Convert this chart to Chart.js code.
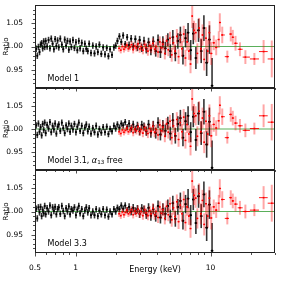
<!DOCTYPE html>
<html>
<head>
<meta charset="utf-8">
<script src="https://cdn.jsdelivr.net/npm/chart.js@4.4.1/dist/chart.umd.min.js"></script>
<style>
	html, body { margin: 0; padding: 0; background: #fff; }
	#wrap { position: relative; width: 281px; height: 281px; overflow: hidden; }
	canvas { position: absolute; left: 0; }
</style>
</head>
<body>
<div id="wrap">
	<canvas id="panel-1"></canvas>
	<canvas id="panel-2"></canvas>
	<canvas id="panel-3"></canvas>
</div>
<script>
const blackEnergy = [
	0.50, 0.51, 0.52, 0.53, 0.54, 0.55, 0.56, 0.57, 0.58, 0.59,
	0.60, 0.615, 0.63, 0.645, 0.66, 0.675, 0.69, 0.705, 0.72, 0.735,
	0.75, 0.77, 0.79, 0.81, 0.83, 0.85, 0.87, 0.89, 0.91, 0.93,
	0.955, 0.98, 1.005, 1.03, 1.055, 1.08, 1.11, 1.14, 1.17, 1.20,
	1.23, 1.26, 1.30, 1.34, 1.38, 1.42, 1.46, 1.50, 1.55, 1.60,
	1.65, 1.70, 1.75, 1.80, 1.86, 1.92, 1.98, 2.04, 2.11, 2.18,
	2.25, 2.33, 2.41, 2.49, 2.58, 2.67, 2.77, 2.87, 2.98, 3.09,
	3.21, 3.34, 3.47, 3.61, 3.76, 3.92, 4.08, 4.25, 4.43, 4.62,
	4.82, 5.03, 5.25, 5.48, 5.72, 5.97, 6.24, 6.52, 6.81, 7.12,
	7.44, 7.78, 8.14, 8.52, 8.92, 9.35, 9.80, 10.25,
];
const blackErr = [
	0.007, 0.007, 0.007, 0.007, 0.007, 0.007, 0.007, 0.007, 0.007, 0.007,
	0.007, 0.007, 0.007, 0.007, 0.007, 0.007, 0.007, 0.007, 0.007, 0.007,
	0.007, 0.007, 0.007, 0.007, 0.007, 0.007, 0.007, 0.007, 0.007, 0.007,
	0.007, 0.007, 0.007, 0.007, 0.007, 0.007, 0.007, 0.007, 0.007, 0.007,
	0.007, 0.007, 0.007, 0.007, 0.007, 0.007, 0.007, 0.007, 0.007, 0.007,
	0.007, 0.007, 0.007, 0.007, 0.007, 0.007, 0.007, 0.007, 0.007, 0.007,
	0.007, 0.007, 0.007, 0.008, 0.008, 0.008, 0.008, 0.009, 0.009, 0.009,
	0.009, 0.010, 0.010, 0.011, 0.011, 0.012, 0.012, 0.013, 0.013, 0.014,
	0.014, 0.015, 0.016, 0.017, 0.017, 0.018, 0.019, 0.020, 0.021, 0.022,
	0.023, 0.024, 0.025, 0.026, 0.028, 0.029, 0.031, 0.060,
];
const blackRatio1 = [
	0.984, 0.995, 0.980, 0.999, 0.988, 1.004, 1.007, 0.996, 1.011, 0.999,
	1.012, 1.000, 1.014, 0.996, 1.017, 1.006, 0.994, 1.016, 1.001, 1.013,
	0.998, 1.017, 1.004, 0.994, 1.015, 1.002, 1.012, 0.993, 1.011, 0.999,
	1.014, 0.997, 1.009, 0.992, 1.012, 0.996, 1.008, 0.990, 1.006, 0.995,
	0.990, 1.006, 0.986, 1.002, 0.985, 1.000, 0.988, 1.004, 0.984, 0.998,
	0.983, 0.997, 0.979, 0.994, 0.982, 0.998, 1.002, 1.012, 1.022, 1.010,
	1.024, 1.005, 1.020, 1.003, 1.017, 1.000, 1.016, 0.999, 1.014, 0.997,
	1.012, 0.995, 1.009, 0.992, 1.011, 0.990, 1.014, 0.988, 1.009, 0.996,
	1.015, 0.990, 1.020, 0.985, 1.012, 1.025, 0.980, 1.018, 1.030, 0.992,
	1.028, 0.975, 1.035, 0.990, 1.040, 0.965, 1.015, 0.915,
];
const blackRatio2 = [
	0.993, 1.008, 0.987, 1.012, 0.994, 1.004, 0.986, 1.011, 0.998, 1.014,
	0.991, 1.009, 1.001, 1.015, 0.993, 1.007, 0.999, 1.012, 0.990, 1.005,
	1.010, 0.996, 1.014, 1.002, 0.991, 1.008, 1.000, 1.012, 0.994, 1.007,
	0.999, 1.011, 0.993, 1.005, 1.014, 0.996, 1.007, 0.991, 1.003, 1.010,
	0.995, 1.005, 0.990, 1.002, 0.993, 1.007, 0.988, 1.000, 0.992, 1.004,
	0.993, 1.005, 0.989, 1.000, 0.995, 1.007, 1.001, 1.010, 1.003, 1.012,
	1.008, 1.015, 1.004, 1.012, 1.001, 1.010, 0.999, 1.007, 0.995, 1.009,
	1.005, 0.995, 1.010, 0.992, 1.007, 0.991, 1.014, 0.988, 1.007, 0.996,
	1.013, 0.990, 1.019, 0.985, 1.011, 1.024, 0.981, 1.017, 1.029, 0.993,
	1.027, 0.976, 1.034, 0.991, 1.038, 0.966, 1.016, 0.915,
];
const blackRatio3 = [
	0.991, 1.006, 0.985, 1.009, 0.998, 1.010, 0.990, 1.004, 0.996, 1.012,
	0.994, 1.007, 1.000, 1.013, 0.992, 1.009, 1.001, 1.010, 0.994, 1.005,
	1.009, 0.995, 1.012, 1.001, 0.990, 1.007, 1.000, 1.011, 0.994, 1.005,
	1.002, 1.009, 0.992, 1.004, 1.012, 0.996, 1.005, 0.990, 1.002, 1.009,
	0.998, 1.007, 0.992, 1.000, 0.992, 1.005, 0.990, 1.002, 0.994, 1.005,
	0.992, 1.004, 0.989, 1.000, 0.994, 1.005, 1.000, 1.008, 1.005, 1.013,
	1.006, 1.013, 1.003, 1.010, 1.000, 1.008, 1.001, 1.005, 0.995, 1.007,
	1.004, 0.994, 1.008, 0.991, 1.005, 0.990, 1.012, 0.987, 1.005, 0.995,
	1.012, 0.989, 1.018, 0.984, 1.010, 1.023, 0.980, 1.016, 1.028, 0.992,
	1.026, 0.975, 1.033, 0.990, 1.037, 0.965, 1.015, 0.915,
];

const redEnergy = [
	2.10, 2.16, 2.22, 2.28, 2.34, 2.40, 2.46, 2.53, 2.60, 2.67,
	2.74, 2.82, 2.90, 2.98, 3.06, 3.15, 3.24, 3.33, 3.43, 3.53,
	3.63, 3.74, 3.85, 3.96, 4.08, 4.20, 4.32, 4.45, 4.58, 4.72,
	4.86, 5.00, 5.15, 5.30, 5.46, 5.62, 5.79, 5.96, 6.14, 6.32,
	6.51, 6.70, 6.90, 7.10, 7.31, 7.53, 7.75, 7.98, 8.22, 8.46,
	8.71, 8.97, 9.24, 9.52, 9.80, 10.10,
	10.55, 11.0, 11.5, 11.7, 12.2, 13.3, 14.1, 14.6, 15.3, 16.5, 18.1, 21.1, 24.7, 28.4,
];
const redErr = [
	0.007, 0.007, 0.007, 0.007, 0.007, 0.007, 0.007, 0.007, 0.008, 0.008,
	0.008, 0.008, 0.008, 0.009, 0.009, 0.009, 0.009, 0.010, 0.010, 0.010,
	0.010, 0.011, 0.011, 0.011, 0.012, 0.012, 0.012, 0.013, 0.013, 0.013,
	0.014, 0.014, 0.015, 0.015, 0.015, 0.016, 0.016, 0.017, 0.017, 0.018,
	0.018, 0.019, 0.019, 0.020, 0.026, 0.021, 0.021, 0.022, 0.022, 0.023,
	0.023, 0.024, 0.024, 0.025, 0.025, 0.025,
	0.016, 0.017, 0.018, 0.020, 0.018, 0.013, 0.016, 0.016, 0.016, 0.015, 0.015, 0.013, 0.025, 0.040,
];
const redRatio1 = [
	0.996, 0.992, 1.000, 0.994, 0.998, 1.003, 0.995, 0.999, 1.004, 0.993,
	1.001, 0.997, 1.006, 0.995, 1.000, 0.992, 1.004, 0.998, 0.990, 1.002,
	0.996, 1.007, 0.994, 1.000, 0.988, 1.010, 0.997, 1.005, 0.985, 1.012,
	0.993, 1.018, 0.982, 1.008, 0.990, 1.022, 0.978, 1.015, 0.995, 1.027,
	0.975, 1.010, 0.990, 0.962, 1.066, 1.035, 1.030, 0.985, 1.040, 0.995,
	1.025, 0.972, 1.018, 0.990, 1.030, 0.985,
	1.008, 0.998, 1.015, 1.052, 1.025, 0.978, 1.027, 1.020, 1.007, 0.994, 0.977, 0.973, 0.989, 0.973,
];
const redRatio2 = [
	0.994, 0.990, 0.998, 0.993, 0.997, 1.002, 0.994, 0.998, 1.003, 0.992,
	1.000, 0.996, 1.005, 0.994, 0.999, 0.991, 1.003, 0.997, 0.990, 1.001,
	0.995, 1.006, 0.993, 0.999, 0.987, 1.009, 0.996, 1.004, 0.984, 1.011,
	0.993, 1.017, 0.981, 1.007, 0.989, 1.021, 0.977, 1.014, 0.994, 1.026,
	0.975, 1.010, 0.989, 0.962, 1.066, 1.034, 1.029, 0.984, 1.039, 0.994,
	1.024, 0.971, 1.017, 0.989, 1.029, 0.985,
	1.010, 1.002, 1.018, 1.052, 1.027, 0.981, 1.032, 1.024, 1.013, 1.007, 0.997, 1.001, 1.029, 1.015,
];
const redRatio3 = [
	0.995, 0.991, 0.999, 0.993, 0.998, 1.003, 0.995, 0.998, 1.004, 0.993,
	1.001, 0.996, 1.005, 0.995, 1.000, 0.991, 1.004, 0.997, 0.991, 1.002,
	0.995, 1.007, 0.993, 1.000, 0.987, 1.010, 0.996, 1.004, 0.985, 1.011,
	0.993, 1.017, 0.982, 1.008, 0.989, 1.021, 0.978, 1.014, 0.995, 1.026,
	0.976, 1.010, 0.990, 0.963, 1.066, 1.035, 1.029, 0.985, 1.039, 0.995,
	1.024, 0.972, 1.017, 0.990, 1.029, 0.986,
	1.010, 1.003, 1.018, 1.050, 1.026, 0.985, 1.030, 1.023, 1.016, 1.008, 1.000, 1.003, 1.030, 1.018,
];

const xTicks = [0.5, 1, 10];
const xMinorTicks = [0.6, 0.7, 0.8, 0.9, 2, 3, 4, 5, 6, 7, 8, 9, 20, 30];
const yTicks = [0.95, 1.00, 1.05];
const yMinorTicks = [0.92, 0.93, 0.94, 0.96, 0.97, 0.98, 0.99, 1.01, 1.02, 1.03, 1.04, 1.06, 1.07, 1.08];
const modelLine = [1, 1];
const modelLineEnergy = [0.5, 30];

const FONT = 'DejaVu Sans';

// error bars: vertical from yErr, horizontal = half way to neighbouring bins (log)
const errBars = {
	id: 'errBars',
	beforeDatasetDraw(chart, args) {
		const ds = chart.data.datasets[args.index];
		if (!ds.yErr) return;
		const { ctx, chartArea: a, scales: { x, y } } = chart;
		ctx.save();
		ctx.beginPath();
		ctx.rect(a.left, a.top, a.right - a.left, a.bottom - a.top);
		ctx.clip();
		const pts = ds.data;
		for (let i = 0; i < pts.length; i++) {
			const p = pts[i];
			const e = ds.yErr[i];
			const px = x.getPixelForValue(p.x);
			const py = y.getPixelForValue(p.y);
			let lo, hi;
			if (i > 0) lo = Math.sqrt(pts[i - 1].x * p.x);
			if (i < pts.length - 1) hi = Math.sqrt(pts[i + 1].x * p.x);
			if (lo === undefined) lo = p.x * p.x / hi;
			if (hi === undefined) hi = p.x * p.x / lo;

			ctx.strokeStyle = ds.vBarColor;
			ctx.lineWidth = ds.vBarWidth;
			ctx.beginPath();
			ctx.moveTo(px, y.getPixelForValue(p.y - e));
			ctx.lineTo(px, y.getPixelForValue(p.y + e));
			ctx.stroke();

			ctx.strokeStyle = ds.hBarColor;
			ctx.lineWidth = ds.hBarWidth;
			ctx.beginPath();
			ctx.moveTo(x.getPixelForValue(lo), py);
			ctx.lineTo(x.getPixelForValue(hi), py);
			ctx.stroke();
		}
		ctx.restore();
	}
};

// box, tick marks and model name
const frame = {
	id: 'frame',
	afterDraw(chart, args, opts) {
		const { ctx, chartArea: a, scales: { x, y } } = chart;
		ctx.save();
		ctx.strokeStyle = '#222';
		ctx.lineWidth = 1;
		ctx.strokeRect(a.left + 0.5, a.top + 0.5, a.right - a.left - 1, a.bottom - a.top - 1);

		ctx.lineWidth = 0.8;
		ctx.beginPath();
		yTicks.forEach(v => {
			const py = Math.round(y.getPixelForValue(v)) + 0.5;
			ctx.moveTo(a.left - 3.5, py);
			ctx.lineTo(a.left, py);
		});
		yMinorTicks.forEach(v => {
			const py = Math.round(y.getPixelForValue(v)) + 0.5;
			ctx.moveTo(a.left - 2, py);
			ctx.lineTo(a.left, py);
		});
		xTicks.forEach(v => {
			const px = Math.round(x.getPixelForValue(v)) + 0.5;
			ctx.moveTo(px, a.bottom);
			ctx.lineTo(px, a.bottom + 3.5);
		});
		xMinorTicks.forEach(v => {
			const px = Math.round(x.getPixelForValue(v)) + 0.5;
			ctx.moveTo(px, a.bottom);
			ctx.lineTo(px, a.bottom + 2);
		});
		ctx.stroke();

		ctx.fillStyle = '#000';
		ctx.textBaseline = 'alphabetic';
		let tx = a.left + 12.5;
		const ty = a.bottom - 7.5;
		ctx.font = `8px "${FONT}"`;
		ctx.fillText(opts.label, tx, ty);
		if (opts.greek) {
			tx += ctx.measureText(opts.label).width;
			ctx.font = `italic 8px "${FONT}"`;
			ctx.fillText('α', tx, ty);
			tx += ctx.measureText('α').width;
			ctx.font = `5.6px "${FONT}"`;
			ctx.fillText(opts.sub, tx, ty + 1.5);
			tx += ctx.measureText(opts.sub).width;
			ctx.font = `8px "${FONT}"`;
			ctx.fillText(opts.tail, tx, ty);
		}
		ctx.restore();
	}
};

function points(energy, ratio) {
	return energy.map((e, i) => ({ x: e, y: ratio[i] }));
}

function CreatePanel(options) {
	const canvas = document.getElementById(options.id);
	canvas.width = 281;
	canvas.height = options.height;
	canvas.style.top = options.top + 'px';

	const config = {
		type: 'scatter',
		data: {
			datasets: [
				{
					data: points(redEnergy, options.red),
					yErr: redErr,
					vBarColor: 'rgba(255, 0, 0, 0.35)',
					vBarWidth: 2,
					hBarColor: 'rgba(255, 0, 0, 0.9)',
					hBarWidth: 1,
					pointStyle: 'rect',
					pointRadius: 1.1,
					backgroundColor: 'rgb(255, 0, 0)',
					borderWidth: 0,
				},
				{
					data: points(blackEnergy, options.black),
					yErr: blackErr,
					vBarColor: 'rgba(0, 0, 0, 0.8)',
					vBarWidth: 1.6,
					hBarColor: 'rgb(0, 0, 0)',
					hBarWidth: 1.3,
					pointStyle: 'rect',
					pointRadius: 1.3,
					backgroundColor: 'rgb(0, 0, 0)',
					borderWidth: 0,
				},
				{
					data: points(modelLineEnergy, modelLine),
					showLine: true,
					borderColor: 'rgb(90, 175, 90)',
					borderWidth: 1.2,
					pointRadius: 0,
				},
			]
		},
		options: {
			responsive: false,
			animation: false,
			events: [],
			layout: {
				padding: { top: 5, right: 6, bottom: options.showX ? 0 : options.height - 5 - options.plotHeight, left: 0 },
			},
			scales: {
				x: {
					type: 'logarithmic',
					min: 0.5,
					max: 30,
					display: options.showX,
					afterFit(scale) {
						scale.height = options.showX ? 28 : 0;
						scale.paddingLeft = 0;
						scale.paddingRight = 0;
					},
					afterBuildTicks(scale) { scale.ticks = xTicks.map(v => ({ value: v })); },
					ticks: {
						autoSkip: false,
						maxRotation: 0,
						padding: 3,
						color: '#000',
						font: { family: FONT, size: 7.5 },
						callback: v => String(v),
					},
					grid: { display: false },
					border: { display: false },
					title: {
						display: true,
						text: 'Energy (keV)',
						color: '#000',
						font: { family: FONT, size: 8 },
						padding: { top: 0, bottom: 6 },
					},
				},
				y: {
					min: 0.91,
					max: 1.09,
					afterFit(scale) {
						scale.width = 35;
						scale.paddingTop = 0;
						scale.paddingBottom = 0;
					},
					afterBuildTicks(scale) { scale.ticks = yTicks.map(v => ({ value: v })); },
					ticks: {
						padding: 4,
						color: '#000',
						font: { family: FONT, size: 7.5 },
						callback: v => v.toFixed(2),
					},
					grid: { display: false },
					border: { display: false },
					title: {
						display: true,
						text: 'Ratio',
						color: '#000',
						font: { family: FONT, size: 7 },
						padding: { top: 2, bottom: 0 },
					},
				},
			},
			plugins: {
				legend: { display: false },
				tooltip: { enabled: false },
				frame: options.frame,
			}
		},
		plugins: [errBars, frame],
	};

	return new Chart(canvas.getContext('2d'), config);
}

CreatePanel({
	id: 'panel-1', top: 0, height: 92, plotHeight: 83, showX: false,
	black: blackRatio1, red: redRatio1,
	frame: { label: 'Model 1' },
});
CreatePanel({
	id: 'panel-2', top: 83, height: 91, plotHeight: 82, showX: false,
	black: blackRatio2, red: redRatio2,
	frame: { label: 'Model 3.1, ', greek: true, sub: '13', tail: ' free' },
});
CreatePanel({
	id: 'panel-3', top: 165, height: 116, plotHeight: 83, showX: true,
	black: blackRatio3, red: redRatio3,
	frame: { label: 'Model 3.3' },
});
</script>
</body>
</html>
